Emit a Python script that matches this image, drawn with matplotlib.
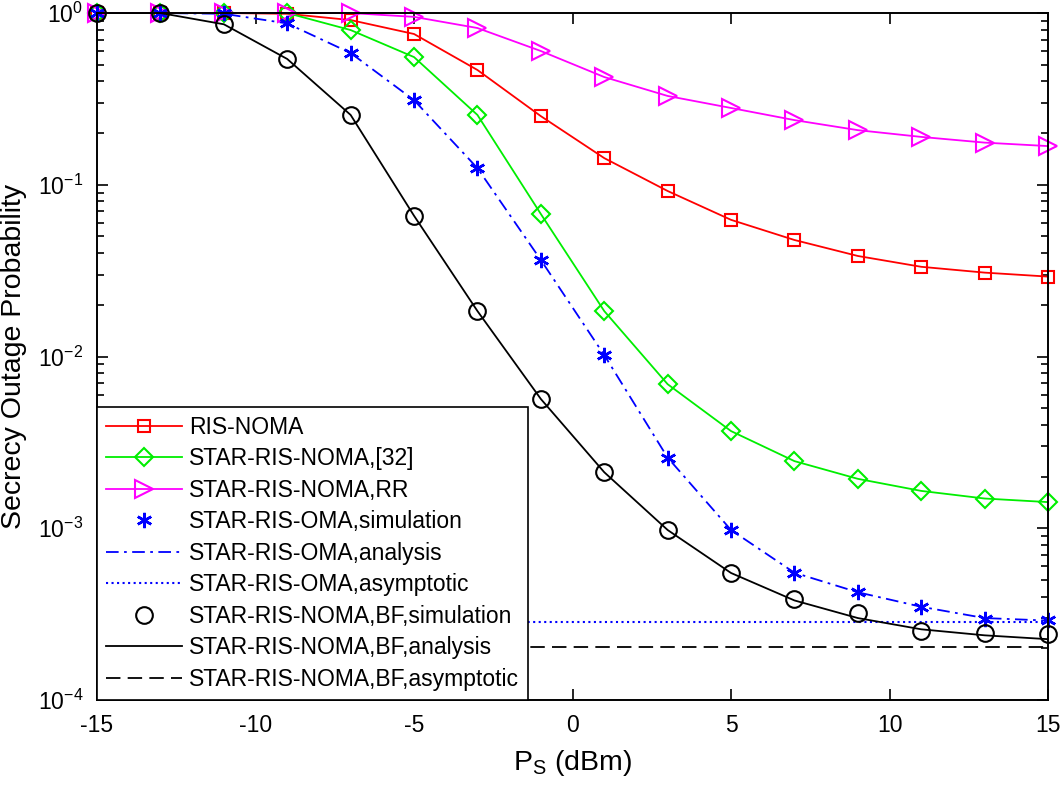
import numpy as np
import matplotlib
matplotlib.use("Agg")
from matplotlib import pyplot as plt

plt.rcParams['font.family'] = ['Liberation Sans', 'DejaVu Sans']
plt.rcParams['mathtext.default'] = 'regular'
plt.rcParams['axes.unicode_minus'] = False

# transmit power (dBm)
ps = [-15, -13, -11, -9, -7, -5, -3, -1, 1, 3, 5, 7, 9, 11, 13, 15]

# secrecy outage probability
ris_noma = [1.0, 1.0, 1.0, 0.99, 0.91, 0.755, 0.466, 0.251, 0.143, 0.092,
            0.0625, 0.0477, 0.0385, 0.0333, 0.0308, 0.0292]
star_noma_32 = [1.0, 1.0, 1.0, 1.0, 0.796, 0.554, 0.255, 0.0676, 0.0184, 0.0069,
                0.00368, 0.00246, 0.00194, 0.00165, 0.00149, 0.00142]
star_noma_rr = [1.0, 1.0, 1.0, 1.0, 1.0, 0.95, 0.818, 0.601, 0.424, 0.329,
                0.280, 0.238, 0.208, 0.190, 0.176, 0.168]
oma_sim = [1.0, 1.0, 1.0, 0.87, 0.585, 0.311, 0.125, 0.0365, 0.0102, 0.00258,
           0.000977, 0.000551, 0.000424, 0.000349, 0.000295, 0.000292]
oma_ana = [1.0, 1.0, 0.99, 0.87, 0.585, 0.311, 0.125, 0.0365, 0.0102, 0.00258,
           0.000977, 0.000551, 0.000424, 0.000349, 0.000300, 0.000290]
oma_asym = 2.83e-4
bf_sim = [1.0, 1.0, 0.86, 0.54, 0.255, 0.066, 0.0184, 0.00566, 0.00212, 0.000977,
          0.000549, 0.000387, 0.000321, 0.000252, 0.000246, 0.000242]
bf_ana = [1.0, 1.0, 0.86, 0.54, 0.255, 0.066, 0.0184, 0.00566, 0.00212, 0.000977,
          0.000549, 0.000380, 0.000300, 0.000258, 0.000238, 0.000226]
bf_asym = 2.04e-4

fig = plt.figure(figsize=(10.63, 7.95), dpi=100)
ax = fig.add_axes([0.0913, 0.1195, 0.8946, 0.8641])

ax.plot(ps, ris_noma, '-s', color='#ff0000', lw=1.3, ms=9, mfc='none', mew=1.5,
        clip_on=False, label='RIS-NOMA')
ax.plot(ps, star_noma_32, '-D', color='#00ee00', lw=1.3, ms=9, mfc='none', mew=1.5,
        clip_on=False, label='STAR-RIS-NOMA,[32]')
ax.plot(ps, star_noma_rr, '->', color='#ff00ff', lw=1.3, ms=13, mfc='none', mew=1.5,
        clip_on=False, label='STAR-RIS-NOMA,RR')
ax.plot(ps, oma_sim, linestyle='none', marker=(6, 2, 0), color='#0000ff', ms=11, mew=1.8,
        clip_on=False, label='STAR-RIS-OMA,simulation')
ax.plot(ps, oma_ana, linestyle=(0, (7, 3, 1.5, 3)), color='#0000ff', lw=1.3,
        label='STAR-RIS-OMA,analysis')
ax.plot([ps[0], ps[-1]], [oma_asym, oma_asym], ':', color='#0000ff', lw=1.5,
        label='STAR-RIS-OMA,asymptotic')
ax.plot(ps, bf_sim, linestyle='none', marker='o', color='black', ms=12, mfc='none', mew=1.5,
        clip_on=False, label='STAR-RIS-NOMA,BF,simulation')
ax.plot(ps, bf_ana, '-', color='black', lw=1.3, label='STAR-RIS-NOMA,BF,analysis')
ax.plot([ps[0], ps[-1]], [bf_asym, bf_asym], '--', color='black', lw=1.3,
        dashes=(8, 4), label='STAR-RIS-NOMA,BF,asymptotic')

ax.set_yscale('log')
ax.set_xlim(-15, 15)
ax.set_ylim(1e-4, 1)
ax.set_xticks([-15, -10, -5, 0, 5, 10, 15])
ax.tick_params(which='both', direction='in', top=True, right=True, labelsize=16.5, width=1.2)
ax.tick_params(which='major', length=8, pad=10)
ax.tick_params(which='minor', length=5)
for s in ax.spines.values():
    s.set_linewidth(1.4)

ax.set_xlabel('P$_S$ (dBm)', fontsize=20.5, labelpad=8)
ax.set_ylabel('Secrecy Outage Probability', fontsize=20.5, labelpad=8)

leg = ax.legend(loc='lower left', bbox_to_anchor=(0, 0), borderaxespad=0, fontsize=16.5,
                handlelength=3.3, handletextpad=0.3, labelspacing=0.37, borderpad=0.4,
                fancybox=False, framealpha=1, edgecolor='black')
leg.get_frame().set_linewidth(1.2)

fig.savefig('out.png', dpi=100)
